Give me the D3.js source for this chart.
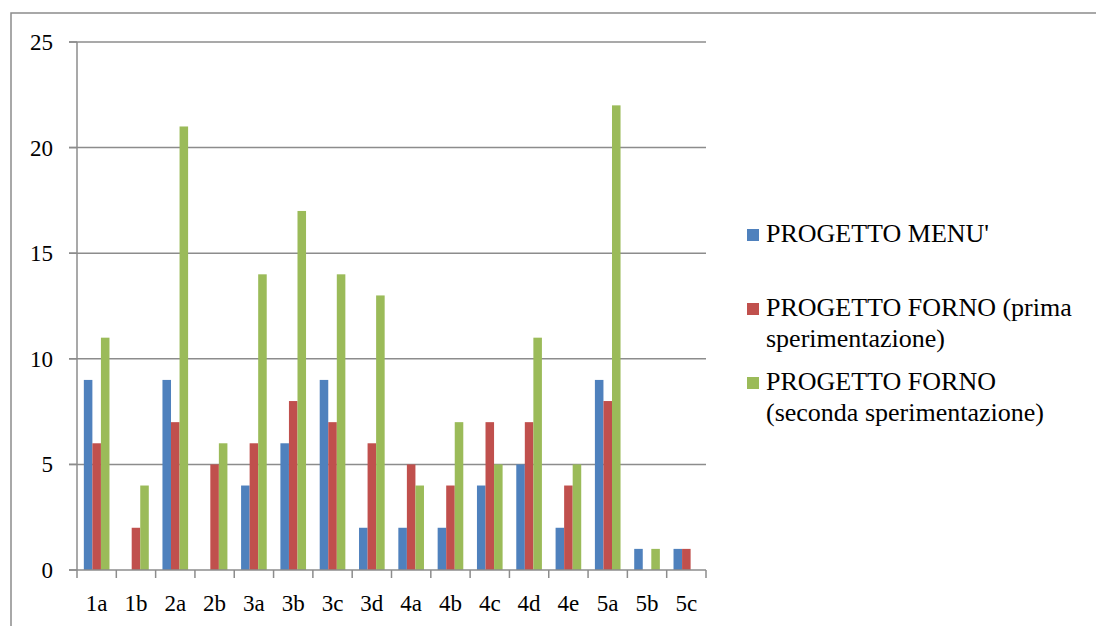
<!DOCTYPE html>
<html>
<head>
<meta charset="utf-8">
<script src="https://cdn.jsdelivr.net/npm/d3@7"></script>
<style>
  body { margin: 0; background: #fff; }
  text { font-family: "Times New Roman", Times, "Liberation Serif", "DejaVu Serif", "Noto Serif", FreeSerif, serif; }
</style>
</head>
<body>
<svg id="chart" width="1096" height="626"></svg>
<script>
var categories = ["1a","1b","2a","2b","3a","3b","3c","3d","4a","4b","4c","4d","4e","5a","5b","5c"]
var seriesNames = ["PROGETTO MENU'", "PROGETTO FORNO (prima sperimentazione)", "PROGETTO FORNO (seconda sperimentazione)"]
var menu   = [9,0,9,0,4,6,9,2,2,2,4,5,2,9,1,1]
var forno1 = [6,2,7,5,6,8,7,6,5,4,7,7,4,8,0,1]
var forno2 = [11,4,21,6,14,17,14,13,4,7,5,11,5,22,1,0]
var yTicks = [0,5,10,15,20,25]
var colors = ["#4f81bd", "#c0504d", "#9bbb59"]
var legendLines = [["PROGETTO MENU'"], ["PROGETTO FORNO (prima", "sperimentazione)"], ["PROGETTO FORNO", "(seconda sperimentazione)"]]

var series = [menu, forno1, forno2]
var svg = d3.select("#chart")
var margin = {left: 77, right: 706, top: 42, bottom: 570}

// outer frame (runs off the right and bottom edges)
svg.append("rect").attr("x", 11).attr("y", 13).attr("width", 1200).attr("height", 800)
  .attr("fill", "none").attr("stroke", "#8c8c8c").attr("stroke-width", 1.5)

var x = d3.scaleBand().domain(categories).range([margin.left, margin.right])
var xs = d3.scaleBand().domain([0,1,2]).range([0, x.bandwidth()]).paddingInner(0).paddingOuter(0.8)
var y = d3.scaleLinear().domain([0, 25]).range([margin.bottom, margin.top])

// gridlines
svg.selectAll(".grid").data(yTicks.filter(d => d > 0)).join("line").attr("class", "grid")
  .attr("x1", margin.left - 8).attr("x2", margin.right).attr("y1", d => y(d)).attr("y2", d => y(d))
  .attr("stroke", "#8c8c8c").attr("stroke-width", 1.5)

// bars
var g = svg.selectAll(".cat").data(categories).join("g").attr("class", "cat")
  .attr("transform", d => "translate(" + x(d) + ",0)")
g.selectAll("rect").data((d, i) => series.map((s, k) => ({k: k, v: s[i]}))).join("rect")
  .filter(d => d.v > 0)
  .attr("x", d => xs(d.k)).attr("width", xs.bandwidth())
  .attr("y", d => y(d.v)).attr("height", d => y(0) - y(d.v))
  .attr("fill", d => colors[d.k])

// y axis
svg.append("line").attr("x1", margin.left).attr("x2", margin.left).attr("y1", margin.top).attr("y2", margin.bottom)
  .attr("stroke", "#8c8c8c").attr("stroke-width", 1.5)
svg.selectAll(".ytick").data(yTicks).join("line").attr("class", "ytick")
  .attr("x1", margin.left - 8).attr("x2", margin.left).attr("y1", d => y(d)).attr("y2", d => y(d))
  .attr("stroke", "#8c8c8c").attr("stroke-width", 1.5)
svg.selectAll(".ylab").data(yTicks).join("text").attr("class", "ylab")
  .attr("x", 53).attr("y", d => y(d) + 8).attr("text-anchor", "end").attr("font-size", 23).text(d => d)

// x axis
svg.append("line").attr("x1", margin.left - 8).attr("x2", margin.right).attr("y1", margin.bottom).attr("y2", margin.bottom)
  .attr("stroke", "#8c8c8c").attr("stroke-width", 1.5)
var bounds = categories.map(c => x(c)).concat([margin.right])
svg.selectAll(".xtick").data(bounds).join("line").attr("class", "xtick")
  .attr("x1", d => d).attr("x2", d => d).attr("y1", margin.bottom).attr("y2", margin.bottom + 8)
  .attr("stroke", "#8c8c8c").attr("stroke-width", 1.5)
svg.selectAll(".xlab").data(categories).join("text").attr("class", "xlab")
  .attr("x", d => x(d) + x.bandwidth() / 2).attr("y", 611).attr("text-anchor", "middle").attr("font-size", 23).text(d => d)

// legend
var legTop = [242, 316, 390]
var leg = svg.selectAll(".leg").data(seriesNames).join("g").attr("class", "leg")
leg.append("rect").attr("x", 747).attr("y", (d, i) => legTop[i] - 13).attr("width", 12).attr("height", 12)
  .attr("fill", (d, i) => colors[i])
leg.each(function (d, i) {
  d3.select(this).selectAll("text").data(legendLines[i]).join("text")
    .attr("x", 766).attr("y", (t, j) => legTop[i] + j * 31).attr("font-size", 26).text(t => t)
})
</script>
</body>
</html>
